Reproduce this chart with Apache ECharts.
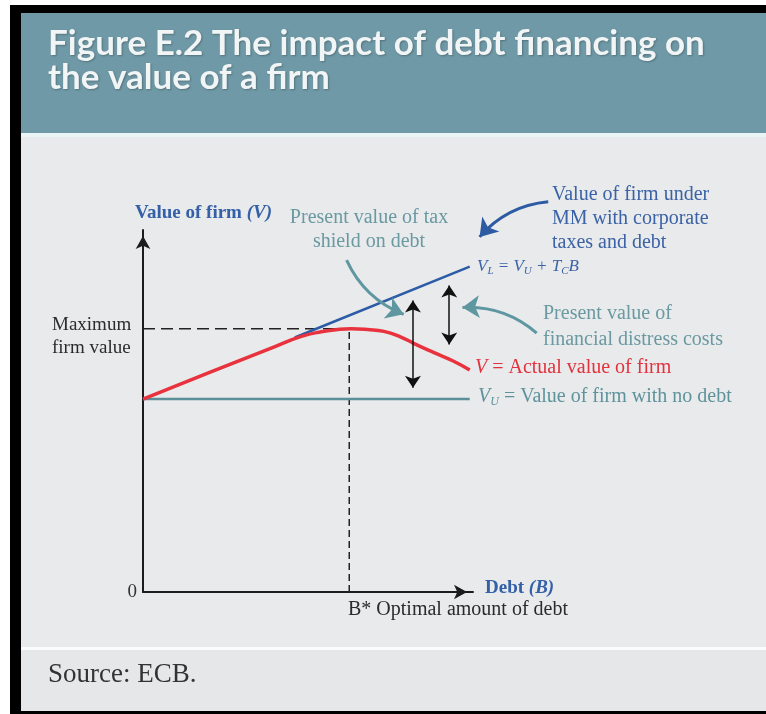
<!DOCTYPE html>
<html>
<head>
<meta charset="utf-8">
<script src="https://cdn.jsdelivr.net/npm/echarts@6.0.0/dist/echarts.min.js"></script>
<style>
  html, body { margin: 0; padding: 0; background: #fff; }
  #chart { width: 766px; height: 714px; }
</style>
</head>
<body>
<div id="chart"></div>
<script>
// V = actual value of the firm (red curve)
const debt = [0, 2, 4, 4.8, 5.4, 5.9, 6.3, 6.8, 7.3, 7.8, 8.2, 8.8, 9.4, 9.9];
const actualValue = [5.33, 6.06, 6.78, 7.06, 7.19, 7.25, 7.27, 7.25, 7.2, 7.05, 6.87, 6.62, 6.38, 6.13];

// V_L = V_U + T_C B (blue line, only the part above the red curve)
const leveredDebt = [4.6, 9.9];
const leveredValue = [7.03, 8.99];

// V_U = value of firm with no debt
const unleveredDebt = [0, 9.9];
const unleveredValue = [5.33, 5.33];

// B* and maximum firm value
const optimalDebt = 6.25;
const maxValue = 7.27;

// double headed arrows: [debt, top, bottom]
const gapArrows = [[8.18, 8.05, 5.64], [9.28, 8.47, 6.84]];

// curved pointers from the notes: [from, to, curveness]
const pointers = [
  [[6.17, 9.17], [7.9, 7.67], -0.2],
  [[11.93, 7.15], [9.68, 7.86], -0.2],
  [[12.28, 10.78], [10.2, 9.81], -0.2]
];
const pointerColors = ['#5f97a1', '#5f97a1', '#2c5aa3'];

const chart = echarts.init(document.getElementById('chart'));

const serif = '"Liberation Serif", "Times New Roman", serif';
const blue = '#3460a8';

const zip = (xs, ys) => xs.map((x, i) => [x, ys[i]]);

const option = {
  backgroundColor: '#ffffff',
  animation: false,
  grid: { left: 143, top: 230, width: 330, height: 362, outerBoundsMode: 'none' },
  xAxis: {
    type: 'value', min: 0, max: 10,
    axisLine: {
      show: true, onZero: false,
      lineStyle: { color: '#1c1c1c', width: 2 },
      symbol: ['none', 'arrow'], symbolSize: [11, 13], symbolOffset: [0, -6]
    },
    axisTick: { show: false }, axisLabel: { show: false }, splitLine: { show: false }
  },
  yAxis: {
    type: 'value', min: 0, max: 10, interval: 10,
    axisLine: {
      show: true, onZero: false,
      lineStyle: { color: '#1c1c1c', width: 2 },
      symbol: ['none', 'arrow'], symbolSize: [11, 13], symbolOffset: [0, -6]
    },
    axisTick: { show: false },
    axisLabel: {
      formatter: v => (v === 0 ? '0' : ''),
      fontFamily: serif, fontSize: 19, color: '#333', margin: 6,
      padding: [0, 0, 10, 0]
    },
    splitLine: { show: false }
  },
  series: [
    {
      type: 'line', data: zip(unleveredDebt, unleveredValue),
      showSymbol: false, lineStyle: { color: '#5b8f99', width: 2.5 }, z: 3
    },
    {
      type: 'line', data: zip(leveredDebt, leveredValue),
      showSymbol: false, lineStyle: { color: '#2d5ca6', width: 2.5 }, z: 3
    },
    {
      type: 'line', data: [[0, maxValue], [optimalDebt, maxValue]],
      showSymbol: false, lineStyle: { color: '#222', width: 1.5, type: [12, 6] }, z: 2
    },
    {
      type: 'line', data: [[optimalDebt, 0], [optimalDebt, maxValue]],
      showSymbol: false, lineStyle: { color: '#222', width: 1.5, type: [7, 4] }, z: 2
    },
    {
      type: 'line', data: zip(debt, actualValue), smooth: 0.5,
      showSymbol: false, lineStyle: { color: '#e8333e', width: 3.5 }, z: 4
    },
    {
      type: 'lines', coordinateSystem: 'cartesian2d', clip: false,
      data: gapArrows.map(a => ({ coords: [[a[0], a[1]], [a[0], a[2]]] })),
      symbol: ['arrow', 'arrow'], symbolSize: 12,
      lineStyle: { color: '#111', width: 1.5, opacity: 1 }, z: 5
    },
    {
      type: 'lines', coordinateSystem: 'cartesian2d', clip: false,
      data: pointers.map((p, i) => ({
        coords: [p[0], p[1]],
        lineStyle: { color: pointerColors[i], curveness: p[2] }
      })),
      symbol: ['none', 'arrow'], symbolSize: 17,
      lineStyle: { width: 3, opacity: 1 }, z: 5
    }
  ],
  graphic: [
    { type: 'rect', shape: { x: 10, y: 5, width: 756, height: 709 }, style: { fill: '#000' }, z: 0 },
    { type: 'rect', shape: { x: 21, y: 13, width: 745, height: 120 }, style: { fill: '#6f99a6' }, z: 0 },
    { type: 'rect', shape: { x: 21, y: 133, width: 745, height: 4 }, style: { fill: '#eaf4f4' }, z: 0 },
    { type: 'rect', shape: { x: 21, y: 137, width: 745, height: 510 }, style: { fill: '#e8eaeb' }, z: 0 },
    { type: 'rect', shape: { x: 21, y: 647, width: 745, height: 3 }, style: { fill: '#fbfcfc' }, z: 0 },
    { type: 'rect', shape: { x: 21, y: 650, width: 745, height: 61 }, style: { fill: '#e5e7e9' }, z: 0 },
    {
      type: 'text', x: 48, y: 61, z: 10,
      style: {
        text: 'Figure E.2 The impact of debt financing on\nthe value of a firm',
        font: 'bold 35px Lato, "Open Sans", sans-serif', lineHeight: 34,
        fill: '#f1f5f6', textVerticalAlign: 'middle',
        textShadowColor: 'rgba(0,0,0,0.25)', textShadowBlur: 2, textShadowOffsetX: 1, textShadowOffsetY: 1
      }
    },
    {
      type: 'text', x: 135, y: 213, z: 10,
      style: {
        text: '{b|Value of firm }{i|(V)}', textVerticalAlign: 'middle',
        rich: {
          b: { fontFamily: serif, fontWeight: 'bold', fontSize: 19, fill: blue },
          i: { fontFamily: serif, fontWeight: 'bold', fontStyle: 'italic', fontSize: 19, fill: blue }
        }
      }
    },
    {
      type: 'text', x: 369, y: 230, z: 10,
      style: {
        text: 'Present value of tax\nshield on debt', font: '20px ' + serif, lineHeight: 24,
        fill: '#6a99a2', textAlign: 'center', textVerticalAlign: 'middle'
      }
    },
    {
      type: 'text', x: 552, y: 219, z: 10,
      style: {
        text: 'Value of firm under\nMM with corporate\ntaxes and debt', font: '20px ' + serif, lineHeight: 24,
        fill: '#3b62a6', textVerticalAlign: 'middle'
      }
    },
    {
      type: 'text', x: 477, y: 267, z: 10,
      style: {
        text: '{v|V}{s|L}{v| = V}{s|U}{v| + T}{s|C}{v|B}', textVerticalAlign: 'middle',
        rich: {
          v: { fontFamily: serif, fontStyle: 'italic', fontSize: 17, lineHeight: 19, fill: '#3d63a6' },
          s: { fontFamily: serif, fontStyle: 'italic', fontSize: 11, lineHeight: 12, fill: '#3d63a6', verticalAlign: 'bottom' }
        }
      }
    },
    {
      type: 'text', x: 543, y: 327, z: 10,
      style: {
        text: 'Present value of\nfinancial distress costs', font: '20px ' + serif, lineHeight: 26,
        fill: '#6a99a2', textVerticalAlign: 'middle'
      }
    },
    {
      type: 'text', x: 475, y: 368, z: 10,
      style: {
        text: '{i|V}{n| = Actual value of firm}', textVerticalAlign: 'middle',
        rich: {
          i: { fontFamily: serif, fontStyle: 'italic', fontSize: 20, fill: '#e1323d' },
          n: { fontFamily: serif, fontSize: 20, fill: '#e1323d' }
        }
      }
    },
    {
      type: 'text', x: 478, y: 397, z: 10,
      style: {
        text: '{i|V}{s|U}{n| = Value of firm with no debt}', textVerticalAlign: 'middle',
        rich: {
          i: { fontFamily: serif, fontStyle: 'italic', fontSize: 20, lineHeight: 22, fill: '#5f939c' },
          s: { fontFamily: serif, fontStyle: 'italic', fontSize: 12, lineHeight: 13, fill: '#5f939c', verticalAlign: 'bottom' },
          n: { fontFamily: serif, fontSize: 20, lineHeight: 22, fill: '#5f939c' }
        }
      }
    },
    {
      type: 'text', x: 52, y: 337, z: 10,
      style: {
        text: 'Maximum\nfirm value', font: '19px ' + serif, lineHeight: 23,
        fill: '#2b2b2b', textVerticalAlign: 'middle'
      }
    },
    {
      type: 'text', x: 485, y: 588, z: 10,
      style: {
        text: '{b|Debt }{i|(B)}', textVerticalAlign: 'middle',
        rich: {
          b: { fontFamily: serif, fontWeight: 'bold', fontSize: 19, fill: blue },
          i: { fontFamily: serif, fontWeight: 'bold', fontStyle: 'italic', fontSize: 19, fill: blue }
        }
      }
    },
    {
      type: 'text', x: 348, y: 610, z: 10,
      style: { text: 'B* Optimal amount of debt', font: '20px ' + serif, fill: '#2b2b2b', textVerticalAlign: 'middle' }
    },
    {
      type: 'text', x: 48, y: 675, z: 10,
      style: { text: 'Source: ECB.', font: '27px ' + serif, fill: '#333', textVerticalAlign: 'middle' }
    }
  ]
};

chart.setOption(option);
</script>
</body>
</html>
